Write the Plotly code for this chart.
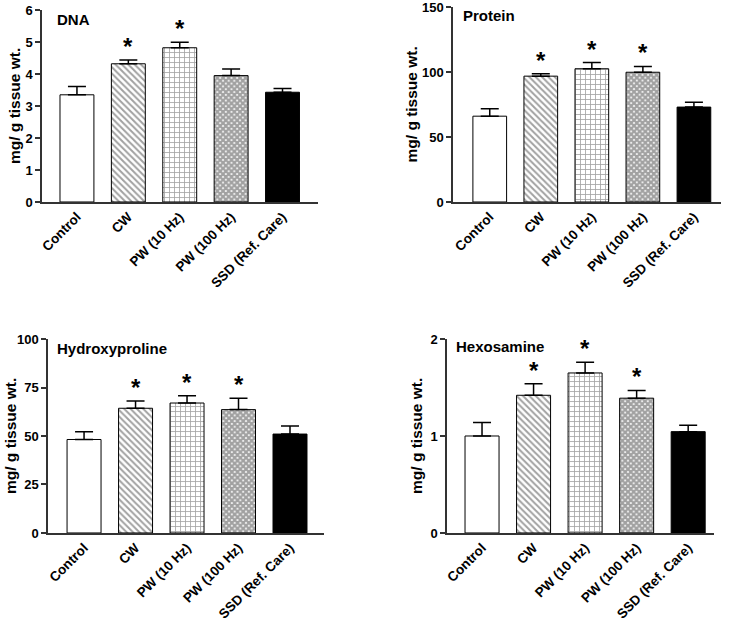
import plotly.graph_objects as go

groups = ["Control", "CW", "PW (10 Hz)", "PW (100 Hz)", "SSD (Ref. Care)"]

dna_mean = [3.35, 4.32, 4.82, 3.95, 3.43]
dna_err = [0.26, 0.12, 0.17, 0.21, 0.12]
dna_sig = [False, True, True, False, False]

protein_mean = [66, 96.8, 102.5, 99.8, 73]
protein_err = [5.8, 1.8, 4.8, 4.5, 3.8]
protein_sig = [False, True, True, True, False]

hyp_mean = [48.2, 64.3, 67.0, 63.6, 51.0]
hyp_err = [4.0, 3.8, 3.8, 5.8, 4.1]
hyp_sig = [False, True, True, True, False]

hex_mean = [1.0, 1.42, 1.65, 1.39, 1.045]
hex_err = [0.14, 0.12, 0.11, 0.08, 0.065]
hex_sig = [False, True, True, True, False]

panels = [
    dict(name="DNA", mean=dna_mean, err=dna_err, sig=dna_sig, ymax=6, dtick=1,
         xdom=[0.0573, 0.4338], ydom=[0.6737, 0.9838], xr=[-0.68, 4.69], tx=13, ty=0.95, yt=-28),
    dict(name="Protein", mean=protein_mean, err=protein_err, sig=protein_sig, ymax=150, dtick=50,
         xdom=[0.618, 0.9836], ydom=[0.6737, 0.9887], xr=[-0.72, 4.53], tx=8, ty=0.955, yt=-42),
    dict(name="Hydroxyproline", mean=hyp_mean, err=hyp_err, sig=hyp_sig, ymax=100, dtick=25,
         xdom=[0.0655, 0.442], ydom=[0.139, 0.4523], xr=[-0.7, 4.66], tx=7, ty=0.95, yt=-37),
    dict(name="Hexosamine", mean=hex_mean, err=hex_err, sig=hex_sig, ymax=2, dtick=1,
         xdom=[0.6098, 0.974], ydom=[0.139, 0.4523], xr=[-0.68, 4.5], tx=7, ty=0.96, yt=-30),
]

fills = ["white", "white", "white", "white", "black"]
shapes = ["", "\\", "+", "x", ""]
psizes = [5, 4.5, 5, 4, 5]
psolid = [0.3, 0.45, 0.3, 0.8, 0.3]
FONT = "Liberation Sans, Arial, sans-serif"

fig = go.Figure()
layout = dict(width=733, height=619, margin=dict(l=0, r=0, t=0, b=0, autoexpand=False),
              paper_bgcolor="white", plot_bgcolor="white", showlegend=False,
              font=dict(family=FONT, color="black"))
annotations = []
for i, p in enumerate(panels, start=1):
    xa = "x" if i == 1 else f"x{i}"
    ya = "y" if i == 1 else f"y{i}"
    fig.add_trace(go.Bar(
        x=groups, y=p["mean"], xaxis=xa, yaxis=ya, width=0.66,
        marker=dict(color=fills, line=dict(color="black", width=1),
                    pattern=dict(shape=shapes, fgcolor="black", bgcolor="white",
                                 fillmode="overlay", size=psizes, solidity=psolid)),
        error_y=dict(type="data", array=p["err"], arrayminus=[0] * 5, symmetric=False,
                     color="black", thickness=1.5, width=9),
    ))
    layout[f"xaxis{i if i > 1 else ''}"] = dict(
        domain=p["xdom"], anchor=ya, type="category", range=p["xr"], automargin=False,
        showline=True, linecolor="#333", linewidth=1.5, ticks="", showgrid=False,
        ticklabeloverflow="allow",
        tickangle=-45, tickfont=dict(family=FONT, size=13.5, weight="bold", color="black"),
    )
    layout[f"yaxis{i if i > 1 else ''}"] = dict(
        domain=p["ydom"], anchor=xa, range=[0, p["ymax"]], dtick=p["dtick"], automargin=False,
        showline=True, linecolor="#333", linewidth=1.5, ticks="outside", ticklen=5,
        tickwidth=1.5, tickcolor="#333", showgrid=False, zeroline=False,
        ticklabeloverflow="allow",
        tickfont=dict(family=FONT, size=13, weight="bold", color="black"),
    )
    annotations.append(dict(text="mg/ g tissue wt.", xref=f"{xa} domain", yref=f"{ya} domain",
                            x=0, y=0.5, xanchor="center", yanchor="middle", xshift=p["yt"],
                            textangle=-90, showarrow=False,
                            font=dict(family=FONT, size=15.5, weight="bold", color="black")))
    annotations.append(dict(text=p["name"], xref=f"{xa} domain", yref=f"{ya} domain",
                            x=0, y=p["ty"], xanchor="left", yanchor="middle", xshift=p["tx"],
                            showarrow=False,
                            font=dict(family=FONT, size=15, weight="bold", color="black")))
    for g, m, e, s in zip(groups, p["mean"], p["err"], p["sig"]):
        if s:
            annotations.append(dict(text="*", x=g, y=m + e, xref=xa, yref=ya,
                                    xanchor="center", yanchor="bottom", yshift=-2,
                                    showarrow=False,
                                    font=dict(family=FONT, size=24, weight="bold", color="black")))
layout["annotations"] = annotations
fig.update_layout(**layout)
fig.write_html("out.html", config={"displayModeBar": False},
               post_script="document.body.style.margin='0px';")
